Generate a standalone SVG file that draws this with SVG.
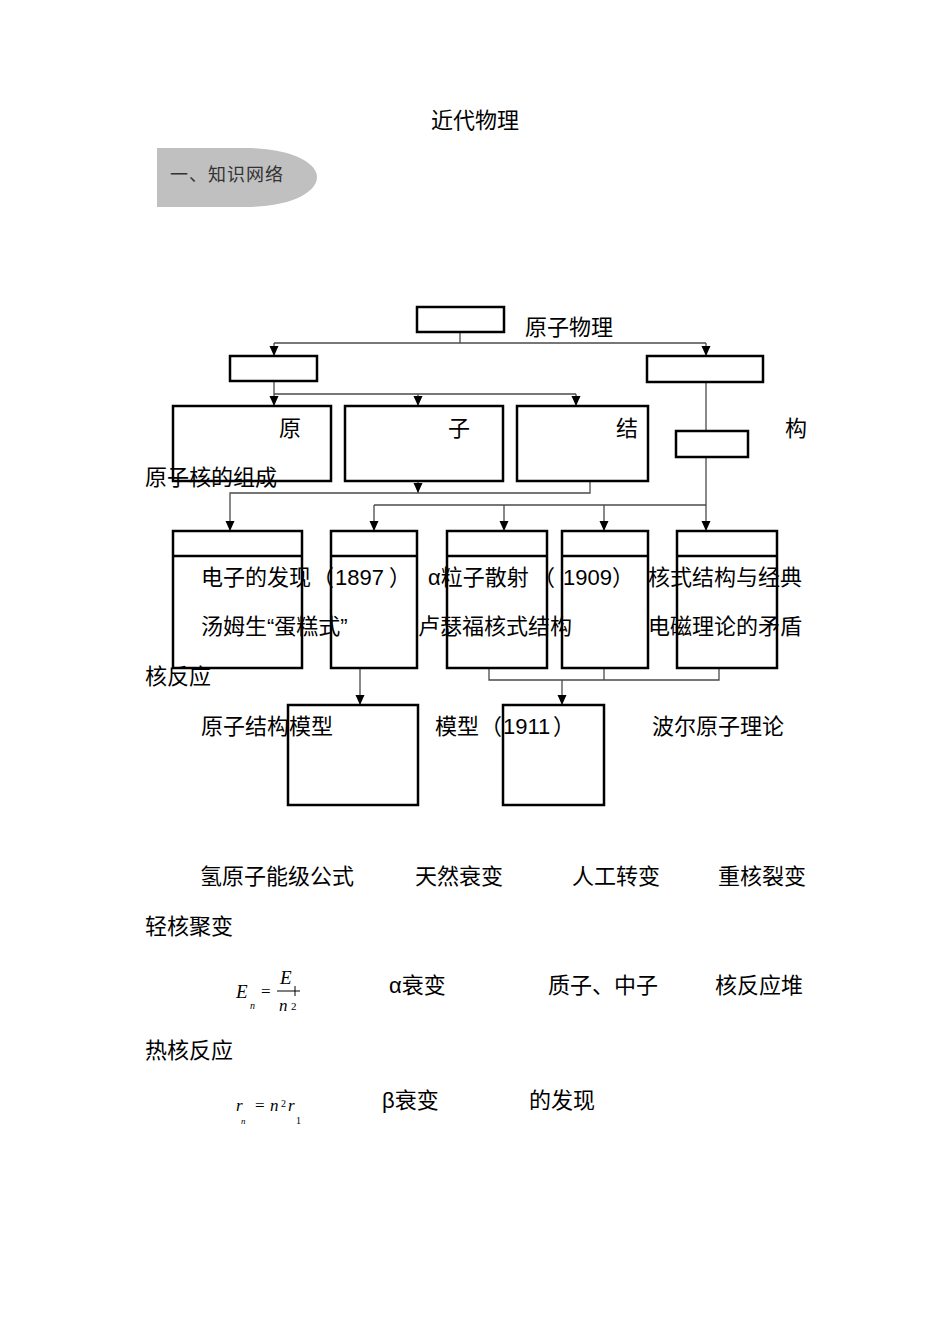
<svg xmlns="http://www.w3.org/2000/svg" width="950" height="1344" viewBox="0 0 950 1344">
<defs>
<marker id="arr" markerUnits="userSpaceOnUse" markerWidth="10" markerHeight="10" refX="10" refY="4.5" orient="auto">
<path d="M0,0 L10,4.5 L0,9 z" fill="#000"/>
</marker>
<style>
.box{fill:#fff;stroke:#000;stroke-width:2.5}
.ln{fill:none;stroke:#4a4a4a;stroke-width:1.3}
.ar{fill:none;stroke:#4a4a4a;stroke-width:1.3;marker-end:url(#arr)}
.t{font-family:"Liberation Sans","Noto Sans CJK SC",sans-serif;font-size:22px;fill:#000}
.m{font-family:"Liberation Serif",serif;font-style:italic;fill:#000}
.mr{font-family:"Liberation Serif",serif;fill:#000}
</style>
</defs>
<rect width="950" height="1344" fill="#fff"/>

<g id="title">
<text class="t" x="431" y="128">近代物理</text>
</g>
<g id="section">
<path d="M157,148 H245 C292,148 317,163 317,177 C317,192 292,207 245,207 H157 Z" fill="#c0c0c0"/>
<text x="170" y="181" font-family="'Liberation Sans','Noto Sans CJK SC',sans-serif" font-size="18" fill="#333" letter-spacing="1">一、知识网络</text>
</g>

<g id="connectors">
<path class="ln" d="M460,332 V343"/>
<path class="ln" d="M274,343 H706"/>
<path class="ar" d="M274,343 V356"/>
<path class="ar" d="M706,343 V356"/>
<path class="ar" d="M274,381 V406"/>
<path class="ln" d="M274,394 H576"/>
<path class="ar" d="M418,394 V406"/>
<path class="ar" d="M576,394 V406"/>
<path class="ln" d="M706,382 V431"/>
<path class="ar" d="M706,457 V531"/>
<path class="ln" d="M374,505 H706"/>
<path class="ar" d="M374,505 V531"/>
<path class="ar" d="M504,505 V531"/>
<path class="ar" d="M604,505 V531"/>
<path class="ar" d="M418,481 V493"/>
<path class="ar" d="M590,481 V493 H230 V531"/>
<path class="ar" d="M360,668 V705"/>
<path class="ln" d="M489,668 V680 H719 V668"/>
<path class="ln" d="M604,668 V680"/>
<path class="ar" d="M562,680 V705"/>
</g>

<g id="n-top"><rect class="box" x="417" y="307" width="87" height="25"/></g>
<g id="n-atom"><rect class="box" x="230" y="356" width="87" height="25"/></g>
<g id="n-nucleus"><rect class="box" x="647" y="356" width="116" height="26"/></g>
<g id="n-small"><rect class="box" x="676" y="431" width="72" height="26"/></g>
<g id="n-a"><rect class="box" x="173" y="406" width="158" height="75"/></g>
<g id="n-b"><rect class="box" x="345" y="406" width="158" height="75"/></g>
<g id="n-c"><rect class="box" x="517" y="406" width="131" height="75"/></g>
<g id="n-d"><rect class="box" x="173" y="531" width="129" height="137"/><line x1="173" y1="556" x2="302" y2="556" stroke="#000" stroke-width="2.5"/></g>
<g id="n-e"><rect class="box" x="331" y="531" width="86" height="137"/><line x1="331" y1="556" x2="417" y2="556" stroke="#000" stroke-width="2.5"/></g>
<g id="n-f"><rect class="box" x="447" y="531" width="100" height="137"/><line x1="447" y1="556" x2="547" y2="556" stroke="#000" stroke-width="2.5"/></g>
<g id="n-g"><rect class="box" x="562" y="531" width="86" height="137"/><line x1="562" y1="556" x2="648" y2="556" stroke="#000" stroke-width="2.5"/></g>
<g id="n-h"><rect class="box" x="677" y="531" width="100" height="137"/><line x1="677" y1="556" x2="777" y2="556" stroke="#000" stroke-width="2.5"/></g>
<g id="n-i"><rect class="box" x="288" y="705" width="130" height="100"/></g>
<g id="n-j"><rect class="box" x="503" y="705" width="101" height="100"/></g>

<g id="labels">
<text class="t" x="525" y="335">原子物理</text>
<text class="t" x="279" y="436">原</text>
<text class="t" x="448" y="436">子</text>
<text class="t" x="616" y="436">结</text>
<text class="t" x="785" y="436">构</text>
<text class="t" x="145" y="485">原子核的组成</text>
<text class="t" x="201" y="585">电子的发现<tspan x="312">（</tspan><tspan x="335">1897</tspan><tspan x="389">）</tspan></text>
<text class="t" x="428" y="585">α粒子散射<tspan x="533">（</tspan><tspan x="563">1909</tspan><tspan x="612">）</tspan></text>
<text class="t" x="648" y="585">核式结构与经典</text>
<text class="t" x="201" y="634">汤姆生“蛋糕式”</text>
<text class="t" x="418" y="634">卢瑟福核式结构</text>
<text class="t" x="648" y="634">电磁理论的矛盾</text>
<text class="t" x="145" y="684">核反应</text>
<text class="t" x="201" y="734">原子结构模型</text>
<text class="t" x="435" y="734">模型<tspan x="480">（</tspan><tspan x="503">1911</tspan><tspan x="553">）</tspan></text>
<text class="t" x="652" y="734">波尔原子理论</text>
<text class="t" x="200" y="884">氢原子能级公式</text>
<text class="t" x="415" y="884">天然衰变</text>
<text class="t" x="572" y="884">人工转变</text>
<text class="t" x="718" y="884">重核裂变</text>
<text class="t" x="145" y="934">轻核聚变</text>
<text class="t" x="389" y="993">α衰变</text>
<text class="t" x="548" y="993">质子、中子</text>
<text class="t" x="715" y="993">核反应堆</text>
<text class="t" x="145" y="1058">热核反应</text>
<text class="t" x="382" y="1108">β衰变</text>
<text class="t" x="529" y="1108">的发现</text>
</g>

<g id="formula-E">
<text class="m" x="236" y="998" font-size="19">E</text>
<text class="m" x="250" y="1009" font-size="10">n</text>
<text class="mr" x="261" y="997" font-size="17">=</text>
<text class="m" x="280" y="984" font-size="19">E</text>
<line x1="277" y1="991" x2="300" y2="991" stroke="#000" stroke-width="1"/>
<line x1="295" y1="986" x2="295" y2="996" stroke="#000" stroke-width="1"/>
<text class="m" x="279" y="1011" font-size="17">n</text>
<text class="mr" x="291" y="1010" font-size="11">2</text>
</g>
<g id="formula-r">
<text class="m" x="236" y="1111" font-size="17">r</text>
<text class="m" x="241" y="1124" font-size="9">n</text>
<text class="mr" x="255" y="1111" font-size="17">=</text>
<text class="m" x="270" y="1111" font-size="17">n</text>
<text class="mr" x="281" y="1107" font-size="10">2</text>
<text class="m" x="288" y="1111" font-size="17">r</text>
<text class="mr" x="296" y="1124" font-size="10">1</text>
</g>
</svg>
